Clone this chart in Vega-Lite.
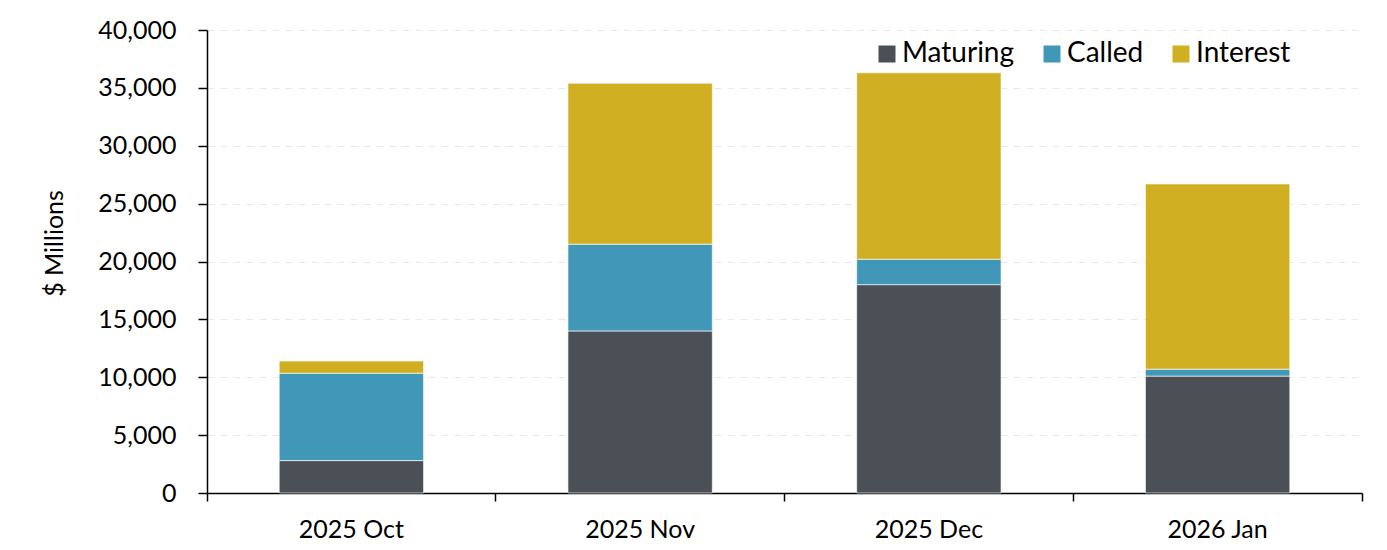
{
  "$schema": "https://vega.github.io/schema/vega-lite/v6.json",
  "autosize": "none",
  "width": 1155,
  "height": 463,
  "padding": {"left": 207, "top": 30, "right": 25, "bottom": 57},
  "background": "white",
  "config": {
    "font": "Lato",
    "view": {"stroke": null},
    "axis": {"labelFont": "Lato", "titleFont": "Lato", "labelColor": "#000000", "titleColor": "#000000"}
  },
  "data": {
    "values": [
      {"month": "2025 Oct", "series": "Maturing", "rank": 1, "value": 2800},
      {"month": "2025 Oct", "series": "Called", "rank": 2, "value": 7550},
      {"month": "2025 Oct", "series": "Interest", "rank": 3, "value": 1050},
      {"month": "2025 Nov", "series": "Maturing", "rank": 1, "value": 14000},
      {"month": "2025 Nov", "series": "Called", "rank": 2, "value": 7500},
      {"month": "2025 Nov", "series": "Interest", "rank": 3, "value": 13900},
      {"month": "2025 Dec", "series": "Maturing", "rank": 1, "value": 18000},
      {"month": "2025 Dec", "series": "Called", "rank": 2, "value": 2200},
      {"month": "2025 Dec", "series": "Interest", "rank": 3, "value": 16100},
      {"month": "2026 Jan", "series": "Maturing", "rank": 1, "value": 10100},
      {"month": "2026 Jan", "series": "Called", "rank": 2, "value": 600},
      {"month": "2026 Jan", "series": "Interest", "rank": 3, "value": 16000}
    ]
  },
  "mark": {"type": "bar", "width": {"band": 0.5}, "stroke": "#ffffff", "strokeWidth": 0.8, "strokeOpacity": 0.8},
  "encoding": {
    "x": {
      "field": "month",
      "type": "nominal",
      "sort": ["2025 Oct", "2025 Nov", "2025 Dec", "2026 Jan"],
      "scale": {"paddingInner": 0, "paddingOuter": 0},
      "axis": {
        "title": null,
        "labelAngle": 0,
        "labelFontSize": 25,
        "labelPadding": 16,
        "bandPosition": 1,
        "tickExtra": true,
        "tickSize": 8,
        "tickColor": "#000000",
        "tickWidth": 1.5,
        "domainColor": "#000000",
        "domainWidth": 1.5,
        "grid": false
      }
    },
    "y": {
      "field": "value",
      "type": "quantitative",
      "stack": "zero",
      "scale": {"domain": [0, 40000], "nice": false},
      "axis": {
        "title": "$ Millions",
        "titleFontSize": 25,
        "titleFontWeight": "normal",
        "titlePadding": 30,
        "titleY": 213,
        "values": [0, 5000, 10000, 15000, 20000, 25000, 30000, 35000, 40000],
        "format": ",d",
        "labelFontSize": 25,
        "labelPadding": 22,
        "tickSize": 9,
        "tickColor": "#000000",
        "tickWidth": 1.5,
        "domainColor": "#000000",
        "domainWidth": 1.5,
        "grid": true,
        "gridColor": "#e8e8e8",
        "gridDash": [7, 6],
        "gridWidth": 1
      }
    },
    "color": {
      "field": "series",
      "type": "nominal",
      "scale": {"domain": ["Maturing", "Called", "Interest"], "range": ["#4b4f56", "#4197b7", "#d0af23"]},
      "legend": {
        "title": null,
        "orient": "none",
        "direction": "horizontal",
        "legendX": 666,
        "legendY": 10,
        "symbolType": "square",
        "symbolSize": 289,
        "symbolStrokeWidth": 0,
        "symbolOpacity": 1,
        "labelFontSize": 28,
        "labelColor": "#000000",
        "labelOffset": 1,
        "columnPadding": 23
      }
    },
    "order": {"field": "rank", "type": "quantitative"}
  }
}
